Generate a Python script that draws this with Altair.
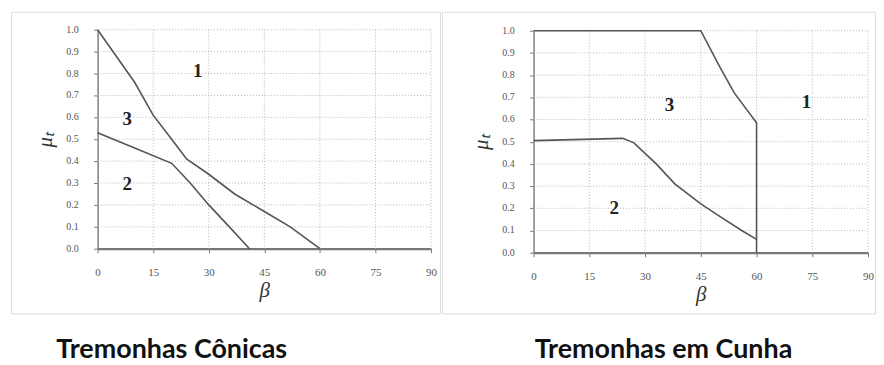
import altair as alt
import pandas as pd

beta_ticks = [0, 15, 30, 45, 60, 75, 90]
mu_ticks = [0.0, 0.1, 0.2, 0.3, 0.4, 0.5, 0.6, 0.7, 0.8, 0.9, 1.0]

con_upper_beta = [0, 10, 15, 20, 24, 30, 37, 45, 52, 60]
con_upper_mu = [1.0, 0.76, 0.61, 0.5, 0.41, 0.34, 0.25, 0.17, 0.1, 0.0]
con_lower_beta = [0, 10, 20, 25, 30, 35, 41]
con_lower_mu = [0.53, 0.46, 0.39, 0.3, 0.2, 0.11, 0.0]

wedge_upper_beta = [0, 45, 50, 54, 60, 60]
wedge_upper_mu = [1.0, 1.0, 0.84, 0.72, 0.585, 0.0]
wedge_lower_beta = [0, 24, 27, 33, 38, 45, 50, 56, 60]
wedge_lower_mu = [0.505, 0.515, 0.495, 0.40, 0.31, 0.22, 0.165, 0.10, 0.06]

con_label_text = ["1", "3", "2"]
con_label_beta = [27, 8, 8]
con_label_mu = [0.81, 0.59, 0.295]
wedge_label_text = ["3", "1", "2"]
wedge_label_beta = [36.6, 73.4, 21.7]
wedge_label_mu = [0.667, 0.68, 0.2]

titles = ["Tremonhas Cônicas", "Tremonhas em Cunha"]


def lines_df(series):
    rows = []
    for name, bs, ms in series:
        for i, (b, m) in enumerate(zip(bs, ms)):
            rows.append({"series": name, "beta": b, "mu": m, "idx": i})
    return pd.DataFrame(rows)


def make_panel(ldf, lab, xr, yr, w, h, title, dx):
    xs = alt.Scale(domain=[0, 90], range=xr, nice=False, zero=False)
    ys = alt.Scale(domain=[0, 1], range=yr, nice=False, zero=False)
    xaxis = alt.Axis(values=beta_ticks, offset=-(h - yr[0]), title="β",
                     titleFont="Liberation Serif", titleFontStyle="italic",
                     titleFontWeight="normal", titleFontSize=21, titlePadding=2,
                     titleColor="#333",
                     labelFont="Liberation Serif", labelFontSize=11, labelColor="#555",
                     labelPadding=14, labelFlush=False, labelOverlap=False,
                     tickSize=4, tickColor="#777",
                     domainColor="#777", domainWidth=2.2, grid=False)
    yaxis = alt.Axis(values=mu_ticks, offset=-xr[0], title="μₜ", labels=False,
                     titleFont="Liberation Serif", titleFontStyle="italic",
                     titleFontWeight="normal", titleFontSize=21, titlePadding=38,
                     titleColor="#333",
                     tickSize=4, tickColor="#777",
                     domainColor="#777", domainWidth=1.4, grid=False)
    X = lambda f: alt.X(f, scale=xs, axis=xaxis)
    Y = lambda f: alt.Y(f, scale=ys, axis=yaxis)
    xgrid = alt.Chart(pd.DataFrame({"g": beta_ticks[1:]})).mark_rule(
        color="#b5b5b5", strokeDash=[1, 2], strokeWidth=1).encode(
        x=X("g:Q"), y=alt.value(yr[1]), y2=alt.value(yr[0]))
    ygrid = alt.Chart(pd.DataFrame({"g": mu_ticks[1:]})).mark_rule(
        color="#b5b5b5", strokeDash=[1, 2], strokeWidth=1).encode(
        y=Y("g:Q"), x=alt.value(xr[0]), x2=alt.value(xr[1]))
    ylabels = alt.Chart(pd.DataFrame({"g": mu_ticks})).mark_text(
        align="right", baseline="middle", font="Liberation Serif", fontSize=10,
        color="#555").encode(
        y=Y("g:Q"), x=alt.value(xr[0] - 19),
        text=alt.Text("g:Q", format=".1f"))
    lines = alt.Chart(ldf).mark_line(color="#555", strokeWidth=1.6).encode(
        x=X("beta:Q"), y=Y("mu:Q"),
        detail="series:N", order="idx:Q")
    text = alt.Chart(lab).mark_text(font="Liberation Serif", fontWeight="bold",
                                    fontSize=19, color="#222").encode(
        x=X("beta:Q"), y=Y("mu:Q"), text="t:N")
    return alt.layer(xgrid, ygrid, ylabels, lines, text).properties(
        width=w, height=h,
        title=alt.TitleParams(title, orient="bottom", anchor="middle", dx=dx,
                              offset=24, font="Lato", fontSize=27,
                              fontWeight="bold", color="#111"),
    )


con_lines = lines_df([("a", con_upper_beta, con_upper_mu),
                      ("b", con_lower_beta, con_lower_mu)])
wedge_lines = lines_df([("a", wedge_upper_beta, wedge_upper_mu),
                        ("b", wedge_lower_beta, wedge_lower_mu)])
con_lab = pd.DataFrame({"t": con_label_text, "beta": con_label_beta, "mu": con_label_mu})
wedge_lab = pd.DataFrame({"t": wedge_label_text, "beta": wedge_label_beta, "mu": wedge_label_mu})

left = make_panel(con_lines, con_lab, [87, 422], [238, 18], 431, 303, titles[0], -54)
right = make_panel(wedge_lines, wedge_lab, [92, 428], [242, 19], 435, 303, titles[1], 5)

chart = alt.hconcat(left, right, spacing=0).properties(
    padding={"left": 2, "top": 2, "right": 0, "bottom": 0}
).configure_view(stroke="#444", strokeWidth=1.2).configure(background="white")

chart.save("out.html", embed_options={"renderer": "svg", "actions": False})
